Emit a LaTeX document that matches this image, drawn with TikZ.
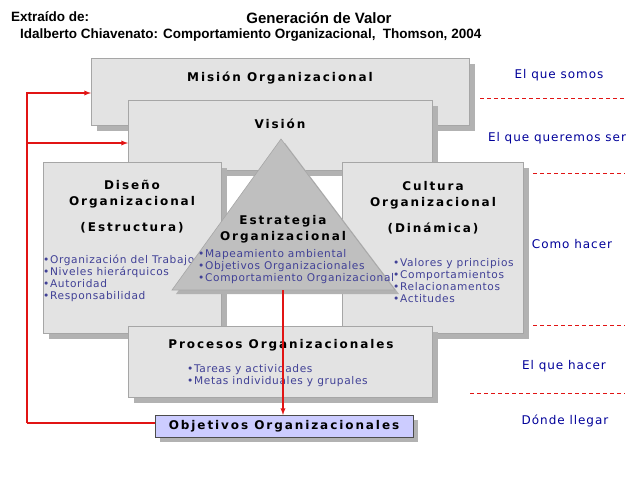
\documentclass[tikz,border=0pt]{standalone}
\usepackage{fontspec}
\setmainfont{Liberation Sans}
\newfontfamily\boxf[LetterSpace=16]{DejaVu Sans}
\newfontfamily\itemf[LetterSpace=6]{DejaVu Sans}
\newfontfamily\sidef[LetterSpace=8]{DejaVu Sans}
\definecolor{lnred}{RGB}{225,20,20}
\begin{document}
\begin{tikzpicture}[x=1pt,y=-1pt,
  panel/.style={draw=gray!70,fill=gray!22,line width=0.6pt},
  shadow/.style={fill=gray!60,draw=none},
  ttl/.style={font=\boxf\bfseries\fontsize{12}{16}\selectfont,align=center,inner sep=0},
  itm/.style={font=\itemf\fontsize{10.6}{12}\selectfont,text=blue!45!black!75!white,align=left,inner sep=0,anchor=north west},
  side/.style={font=\sidef\fontsize{12}{13}\selectfont,text=blue!60!black,inner sep=0},
  redln/.style={color=lnred,line width=1.3pt},
  dsh/.style={color=lnred,line width=0.9pt,dash pattern=on 4pt off 3pt}]
\useasboundingbox (0,0) rectangle (640,480);
% Mision
\fill[shadow] (97,64) rectangle (475,131);
\draw[panel] (91,58) rectangle (469,125);
\node[ttl] (mision) at (280,78) {Misión Organizacional};
% Vision
\fill[shadow] (134,106) rectangle (438,176);
\draw[panel] (128,100) rectangle (432,170);
\node[ttl] (vision) at (280,124) {Visión};
% Diseno
\fill[shadow] (49,168) rectangle (227,339);
\draw[panel] (43,162) rectangle (221,333);
\node[ttl] (diseno) at (132,207) {Diseño\\Organizacional\\[10pt](Estructura)};
\node[itm] (ditems) at (43,255) {•Organización del Trabajo\\•Niveles hierárquicos\\•Autoridad\\•Responsabilidad};
% Cultura
\fill[shadow] (348,168) rectangle (529,339);
\draw[panel] (342,162) rectangle (523,333);
\node[ttl] (cultura) at (433,208) {Cultura\\Organizacional\\[10pt](Dinámica)};
\node[itm] (citems) at (393,258) {•Valores y principios\\•Comportamientos\\•Relacionamentos\\•Actitudes};
% Procesos
\fill[shadow] (134,332) rectangle (438,403);
\draw[panel] (128,326) rectangle (432,397);
\node[ttl] (procesos) at (281,345) {Procesos Organizacionales};
\node[itm] (pitems) at (187,364) {•Tareas y actividades\\•Metas individuales y grupales};
% Triangle
\fill[shadow] (285,143) -- (399,294) -- (176,294) -- cycle;
\draw[draw=gray!70,fill=gray!50,line width=0.6pt] (281,139) -- (395,290) -- (172,290) -- cycle;
\node[ttl] (estr) at (283,229) {Estrategia\\Organizacional};
\node[itm] (eitems) at (198,249) {•Mapeamiento ambiental\\•Objetivos Organizacionales\\•Comportamiento Organizacional};
% Objetivos
\fill[gray!60] (160,420) rectangle (418,442);
\draw[draw=black!70,fill=blue!20,line width=0.6pt] (155,415) rectangle (413,437);
\node[ttl] (obj) at (284,426) {Objetivos Organizacionales};
% connectors
\coordinate (l1) at (27,93);
\coordinate (l2) at (27,143);
\coordinate (l3) at (27,423);
\coordinate (tb) at (283,290);
\draw[redln,-latex] (l3) -- (l1) -- (91,93);
\draw[redln,-latex] (l2) -- (128,143);
\draw[redln] (155,423) -- (l3);
\draw[redln,-latex] (tb) -- (283,415);
% side labels
\node[side] (s1) at (559,75) {El que somos};
\node[side] (s2) at (557,138) {El que queremos ser};
\node[side] (s3) at (572,244) {Como hacer};
\node[side] (s4) at (564,366) {El que hacer};
\node[side] (s5) at (565,421) {Dónde llegar};
\draw[dsh] (480,98) -- (625,98);
\draw[dsh] (533,173) -- (625,173);
\draw[dsh] (533,325) -- (625,325);
\draw[dsh] (470,393) -- (625,393);
% titles
\node[font=\bfseries\fontsize{15}{17}\selectfont,inner sep=0] (t) at (319,18) {Generación de Valor};
\node[font=\bfseries\fontsize{13.5}{15}\selectfont,inner sep=0,anchor=west] (t1) at (11,17) {Extraído de:};
\node[font=\bfseries\fontsize{13.5}{15}\selectfont,inner sep=0,anchor=west] (t2) at (20,35) {Idalberto Chiavenato: Comportamiento Organizacional,\ \ Thomson, 2004};
\end{tikzpicture}
\end{document}
